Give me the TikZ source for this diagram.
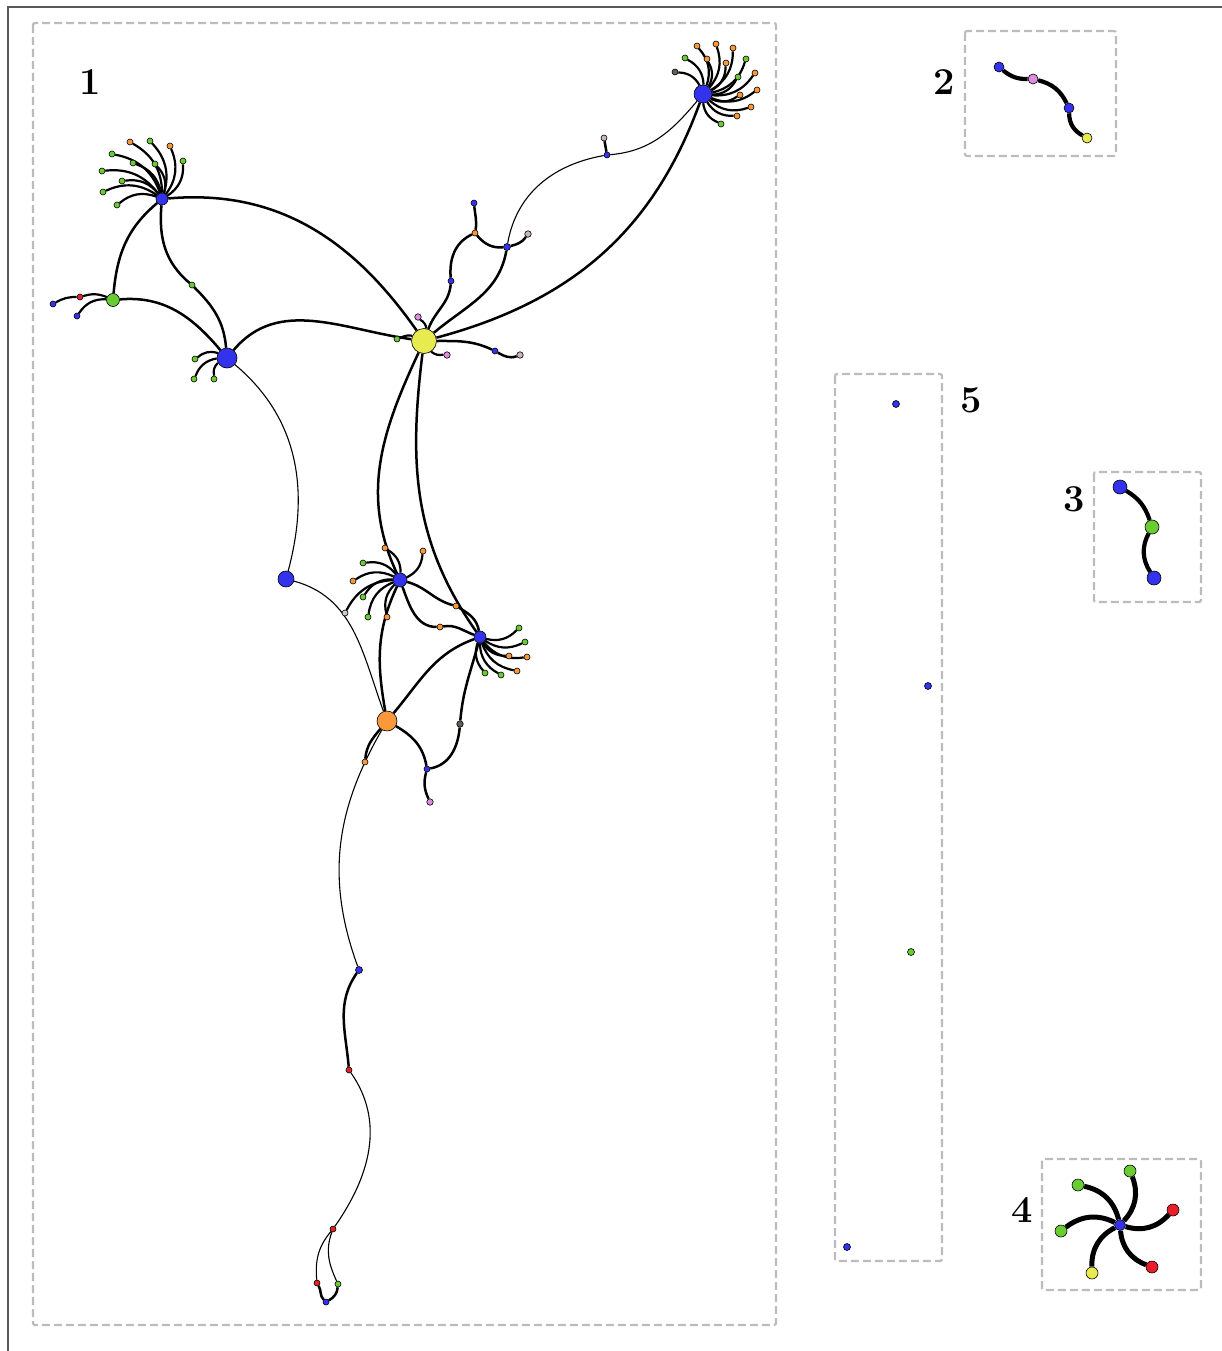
\documentclass[tikz,border=0pt]{standalone}
\usetikzlibrary{backgrounds}
\definecolor{cblue}{RGB}{51,51,238}
\definecolor{cgreen}{RGB}{104,204,50}
\definecolor{corange}{RGB}{252,152,60}
\definecolor{cyellow}{RGB}{232,234,80}
\definecolor{cred}{RGB}{234,30,40}
\definecolor{cviolet}{RGB}{222,140,222}
\definecolor{cpale}{RGB}{204,180,178}
\definecolor{cdark}{RGB}{100,95,85}
\definecolor{clgray}{RGB}{205,205,205}
\definecolor{boxgray}{RGB}{188,188,188}
\definecolor{framegray}{RGB}{90,90,90}
\begin{document}
\begin{tikzpicture}[x=1pt,y=1pt,
  nd/.style={circle,draw=black,line width=0.6pt,inner sep=0pt,minimum size=6pt},
  ds/.style={minimum size=#1},
  thk/.style={line width=2.5pt},
  thn/.style={line width=1.1pt},
  lf/.style={line width=2.2pt},
  big/.style={line width=4.2pt},
  grp/.style={draw=boxgray,line width=2.2pt,dash pattern=on 8pt off 4pt,rounded corners=2pt},
  lab/.style={font=\fontsize{38}{42}\selectfont\bfseries,inner sep=0pt}]
\useasboundingbox (0,0) rectangle (1222,-1351);
\draw[framegray,line width=1.3pt] (8,-7) rectangle (1240,-1370);
% group boxes
\draw[grp] (33,-23) rectangle (776,-1325);
\draw[grp] (965,-31) rectangle (1116,-156);
\draw[grp] (1094,-472) rectangle (1201,-602);
\draw[grp] (1042,-1159) rectangle (1201,-1290);
\draw[grp] (835,-374) rectangle (942,-1261);
\node[lab] (l1) at (90,-82) {1};
\node[lab] (l2) at (944,-82) {2};
\node[lab] (l3) at (1074,-499) {3};
\node[lab] (l4) at (1022,-1210) {4};
\node[lab] (l5) at (971,-400) {5};
% ===== component 1 nodes =====
\node[nd,ds=12pt,fill=cblue] (A) at (162,-199) {};
\node[nd,ds=13pt,fill=cgreen] (B) at (113,-300) {};
\node[nd,ds=20pt,fill=cblue] (C) at (227,-358) {};
\node[nd,ds=25pt,fill=cyellow] (D) at (424,-341) {};
\node[nd,ds=18pt,fill=cblue] (E) at (703,-94) {};
\node[nd,ds=16pt,fill=cblue] (F) at (286,-579) {};
\node[nd,ds=14pt,fill=cblue] (G) at (400,-580) {};
\node[nd,ds=12pt,fill=cblue] (H) at (480,-637) {};
\node[nd,ds=20pt,fill=corange] (I) at (387,-721) {};
\node[nd,ds=7pt,fill=cblue] (J) at (507,-247) {};
\node[nd,fill=corange] (K) at (475,-233) {};
\node[nd,fill=cblue] (K2) at (474,-203) {};
\node[nd,ds=6.5pt,fill=cpale] (L) at (528,-234) {};
\node[nd,fill=cblue] (M) at (451,-281) {};
\node[nd,fill=cblue] (N) at (607,-155) {};
\node[nd,fill=cpale] (O) at (604,-138) {};
\node[nd,fill=cgreen] (g1) at (192,-285) {};
\node[nd,ds=6.5pt,fill=cviolet] (d1) at (418,-317) {};
\node[nd,fill=cgreen] (d2) at (397,-339) {};
\node[nd,ds=6.5pt,fill=cviolet] (d3) at (447,-355) {};
\node[nd,fill=cblue] (d4) at (495,-351) {};
\node[nd,ds=6.5pt,fill=cpale] (d5) at (520,-355) {};
% A leaves
\node[nd,fill=corange] (a1) at (130,-142) {};
\node[nd,fill=cgreen] (a2) at (150,-141) {};
\node[nd,fill=corange] (a3) at (170,-146) {};
\node[nd,fill=cgreen] (a4) at (183,-161) {};
\node[nd,fill=cgreen] (a5) at (112,-154) {};
\node[nd,fill=cgreen] (a6) at (133,-163) {};
\node[nd,fill=cgreen] (a7) at (155,-164) {};
\node[nd,fill=cgreen] (a8) at (102,-171) {};
\node[nd,fill=cgreen] (a9) at (122,-181) {};
\node[nd,fill=cgreen] (a10) at (103,-192) {};
\node[nd,fill=cgreen] (a11) at (117,-205) {};
% B leaves
\node[nd,fill=cred] (b1) at (80,-297) {};
\node[nd,fill=cblue] (b2) at (53,-304) {};
\node[nd,fill=cblue] (b3) at (77,-316) {};
% C leaves
\node[nd,fill=cgreen] (c1) at (195,-359) {};
\node[nd,fill=cgreen] (c2) at (194,-379) {};
\node[nd,fill=cgreen] (c3) at (214,-379) {};
% E leaves
\node[nd,fill=corange] (e1) at (697,-46) {};
\node[nd,fill=corange] (e2) at (716,-44) {};
\node[nd,fill=corange] (e3) at (733,-48) {};
\node[nd,fill=cgreen] (e4) at (685,-58) {};
\node[nd,fill=corange] (e5) at (707,-59) {};
\node[nd,fill=corange] (e6) at (726,-63) {};
\node[nd,fill=cgreen] (e7) at (746,-59) {};
\node[nd,fill=cdark] (e8) at (675,-72) {};
\node[nd,fill=cgreen] (e9) at (738,-77) {};
\node[nd,fill=corange] (e10) at (755,-73) {};
\node[nd,fill=corange] (e11) at (740,-95) {};
\node[nd,fill=corange] (e12) at (757,-90) {};
\node[nd,fill=corange] (e13) at (751,-107) {};
\node[nd,fill=corange] (e14) at (737,-116) {};
\node[nd,fill=cgreen] (e15) at (721,-124) {};
% G leaves
\node[nd,fill=corange] (g2) at (385,-548) {};
\node[nd,fill=corange] (g3) at (423,-551) {};
\node[nd,fill=cgreen] (g4) at (363,-563) {};
\node[nd,fill=corange] (g5) at (353,-581) {};
\node[nd,fill=cgreen] (g6) at (363,-597) {};
\node[nd,fill=clgray] (g7) at (345,-613) {};
\node[nd,fill=cgreen] (g8) at (368,-617) {};
\node[nd,fill=corange] (g9) at (387,-617) {};
\node[nd,fill=corange] (o1) at (456,-606) {};
\node[nd,fill=corange] (o2) at (440,-627) {};
% H leaves
\node[nd,fill=cgreen] (h1) at (519,-628) {};
\node[nd,fill=cgreen] (h2) at (525,-642) {};
\node[nd,fill=corange] (h3) at (509,-656) {};
\node[nd,fill=corange] (h4) at (527,-657) {};
\node[nd,fill=corange] (h5) at (517,-671) {};
\node[nd,fill=cgreen] (h6) at (501,-675) {};
\node[nd,fill=cgreen] (h7) at (485,-673) {};
% lower part
\node[nd,ds=6.5pt,fill=cdark] (P) at (460,-724) {};
\node[nd,fill=cblue] (Q) at (427,-769) {};
\node[nd,ds=6.5pt,fill=cviolet] (R) at (430,-802) {};
\node[nd,fill=corange] (S) at (365,-762) {};
\node[nd,ds=7pt,fill=cblue] (T) at (359,-970) {};
\node[nd,fill=cred] (U) at (349,-1070) {};
\node[nd,fill=cred] (V) at (333,-1229) {};
\node[nd,fill=cred] (W) at (317,-1283) {};
\node[nd,fill=cgreen] (X) at (338,-1284) {};
\node[nd,fill=cblue] (Y) at (326,-1302) {};
% ===== component 2 =====
\node[nd,ds=10pt,fill=cblue] (p1) at (999,-67) {};
\node[nd,ds=10pt,fill=cviolet] (p2) at (1033,-79) {};
\node[nd,ds=10pt,fill=cblue] (p3) at (1069,-108) {};
\node[nd,ds=10pt,fill=cyellow] (p4) at (1087,-138) {};
% ===== component 3 =====
\node[nd,ds=14pt,fill=cblue] (q1) at (1120,-487) {};
\node[nd,ds=14pt,fill=cgreen] (q2) at (1152,-527) {};
\node[nd,ds=14pt,fill=cblue] (q3) at (1154,-578) {};
% ===== component 4 =====
\node[nd,ds=11pt,fill=cblue] (s0) at (1120,-1225) {};
\node[nd,ds=12pt,fill=cgreen] (s1) at (1130,-1171) {};
\node[nd,ds=12pt,fill=cred] (s2) at (1173,-1210) {};
\node[nd,ds=12pt,fill=cred] (s3) at (1152,-1267) {};
\node[nd,ds=12pt,fill=cyellow] (s4) at (1092,-1273) {};
\node[nd,ds=12pt,fill=cgreen] (s5) at (1061,-1231) {};
\node[nd,ds=12pt,fill=cgreen] (s6) at (1078,-1185) {};
% ===== component 5 =====
\node[nd,ds=7pt,fill=cblue] (t1) at (896,-404) {};
\node[nd,ds=7pt,fill=cblue] (t2) at (928,-686) {};
\node[nd,ds=7pt,fill=cgreen] (t3) at (911,-952) {};
\node[nd,ds=7pt,fill=cblue] (t4) at (847,-1247) {};
% ===== edges =====
\begin{pgfonlayer}{background}
\draw[thk] (A) to[out=5,in=125] (D);
\draw[thk] (A) to[out=220,in=85] (B);
\draw[thk] (A) to[out=265,in=140] (g1);
\draw[thk] (g1) to[out=-45,in=95] (C);
\draw[thk] (B) to[out=5,in=130] (C);
\draw[thk] (C) to[out=50,in=172] (D);
\draw[thn] (C) to[out=-40,in=75] (F);
\draw[thn] (F) to[out=-15,in=110] (I);
\draw[thk] (D) to[out=245,in=115] (G);
\draw[thk] (D) to[out=263,in=125] (H);
\draw[thk] (D) to[out=40,in=260] (J);
\draw[thk] (D) to[out=15,in=250] (E);
\draw[thk] (D) to[out=70,in=265] (M);
\draw[thk] (M) to[out=95,in=205] (K);
\draw[thk] (K) to[out=80,in=275] (K2);
\draw[thk] (K) to[out=-50,in=185] (J);
\draw[thk] (J) to[out=15,in=235] (L);
\draw[thn] (J) to[out=80,in=190] (N);
\draw[thk] (N) to[out=100,in=280] (O);
\draw[thn] (N) to[out=5,in=230] (E);
\draw[thk] (D) to[out=0,in=155] (d4);
\draw[thk] (d4) to[out=-30,in=200] (d5);
\draw[lf] (D) to[bend right=25] (d1);
\draw[lf] (D) to[bend right=20] (d2);
\draw[lf] (D) to[bend right=25] (d3);
\draw[thk] (G) to[out=245,in=100] (I);
\draw[thk] (H) to[out=200,in=50] (I);
\draw[thk] (H) to[out=255,in=85] (P);
\draw[thk] (P) to[out=265,in=10] (Q);
\draw[thk] (I) to[out=-30,in=100] (Q);
\draw[thk] (Q) to[out=255,in=115] (R);
\draw[thk] (I) to[out=230,in=85] (S);
\draw[thn] (I) to[out=240,in=110] (T);
\draw[thk] (G) to[out=-15,in=165] (o1);
\draw[thk] (o1) to[out=-30,in=100] (H);
\draw[thk] (G) to[out=-70,in=180] (o2);
\draw[thk] (o2) to[out=10,in=160] (H);
\draw[thk] (T) to[out=235,in=95] (U);
\draw[thn] (U) to[out=-55,in=55] (V);
\draw[thn] (V) to[out=230,in=95] (W);
\draw[thn] (V) to[out=250,in=115] (X);
\draw[thk] (W) to[out=-60,in=135] (Y);
\draw[thk] (X) to[out=265,in=30] (Y);
\foreach \n in {a1,a2,a3,a4,a5,a6,a7,a8,a9,a10,a11}
  \draw[lf] (A) to[bend right=30] (\n);
\draw[lf] (B) to[bend right=20] (b1);
\draw[lf] (b1) to[bend right=15] (b2);
\draw[lf] (B) to[bend right=30] (b3);
\foreach \n in {c1,c2,c3}
  \draw[lf] (C) to[bend right=30] (\n);
\foreach \n in {e1,e2,e3,e4,e5,e6,e7,e8,e9,e10,e11,e12,e13,e14,e15}
  \draw[lf] (E) to[bend right=30] (\n);
\foreach \n in {g2,g3,g4,g5,g6,g7,g8,g9}
  \draw[lf] (G) to[bend right=30] (\n);
\foreach \n in {h1,h2,h3,h4,h5,h6,h7}
  \draw[lf] (H) to[bend right=30] (\n);
% component 2
\draw[big] (p1) to[bend right=20] (p2);
\draw[big] (p2) to[bend left=25] (p3);
\draw[big] (p3) to[bend right=30] (p4);
% component 3
\draw[big] (q1) to[bend left=20] (q2);
\draw[big] (q2) to[bend right=30] (q3);
% component 4
\foreach \n in {s1,s2,s3,s4,s5,s6}
  \draw[line width=5pt] (s0) to[bend right=32] (\n);
\end{pgfonlayer}
\end{tikzpicture}
\end{document}
